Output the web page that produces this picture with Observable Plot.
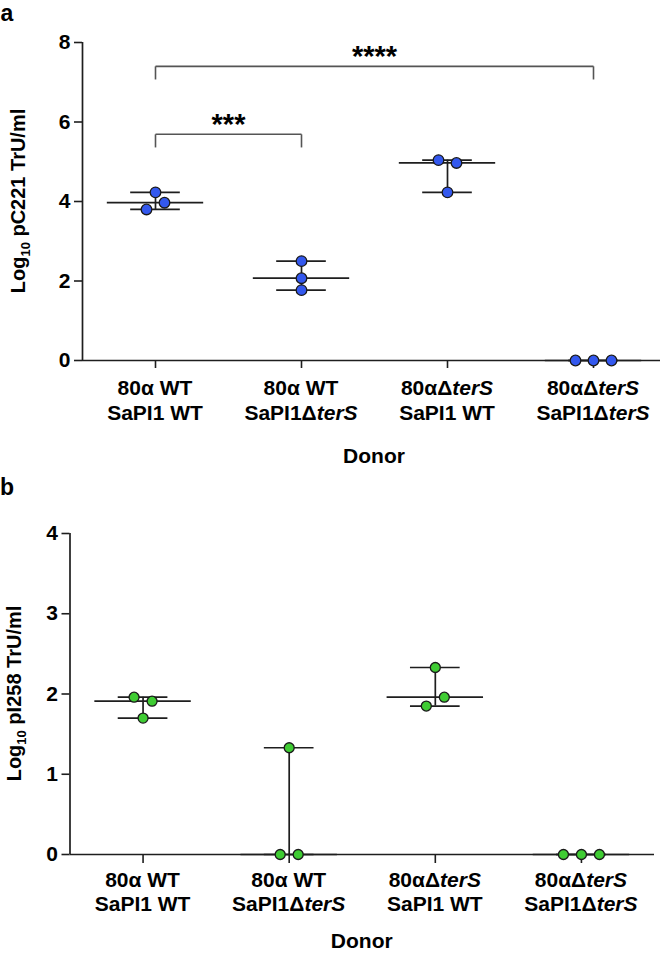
<!DOCTYPE html>
<html><head><meta charset="utf-8">
<script src="https://cdn.jsdelivr.net/npm/d3@7"></script>
<script src="https://cdn.jsdelivr.net/npm/@observablehq/plot@0.6"></script>
<style>
body{margin:0;background:#fff;}
#wrap{width:666px;}
#wrap svg{display:block;overflow:visible;}
</style></head>
<body><div id="wrap"></div>
<script>
// ---- data ----
const categories = [0, 1, 2, 3];
const tickLine1 = [[["80α WT", false]], [["80α WT", false]], [["80αΔ", false], ["terS", true]], [["80αΔ", false], ["terS", true]]];
const tickLine2 = [[["SaPI1 WT", false]], [["SaPI1Δ", false], ["terS", true]], [["SaPI1 WT", false]], [["SaPI1Δ", false], ["terS", true]]];
const groupIdx = [0,0,0, 1,1,1, 2,2,2, 3,3,3];
const valuesA = [4.23,3.97,3.80, 2.50,2.07,1.77, 5.04,4.97,4.23, 0,0,0];
const slotA   = [0,1,-1, 0,0,0, -1,1,0, -2,0,2];
const valuesB = [1.96,1.91,1.70, 1.33,0,0, 2.33,1.96,1.85, 0,0,0];
const slotB   = [-1,1,0, 0,-1,1, 0,1,-1, -2,0,2];
const bracketFrom = [0, 0];
const bracketTo = [1, 3];
const bracketY = [5.69, 7.40];
const bracketLabel = ["***", "****"];
const yTicksA = [0, 2, 4, 6, 8];
const yTicksB = [0, 1, 2, 3, 4];
const yLabelA = ["pC221 TrU/ml"];
const yLabelB = ["pI258 TrU/ml"];
const xTitle = "Donor";

const FONT = "'Liberation Sans', Arial, Helvetica, sans-serif";
const INK = "#1e1e1e";

function makePanel(cfg) {
  const pts = groupIdx.map((g, i) => ({g, v: cfg.values[i], slot: cfg.slots[i]}));
  const summary = d3.rollups(pts, v => ({
    med: d3.median(v, d => d.v), min: d3.min(v, d => d.v), max: d3.max(v, d => d.v)
  }), d => d.g).map(([g, s]) => ({g, ...s}));
  const brackets = (cfg.brackets || []);
  const marks = [
    Plot.ruleX([-0.5], {stroke: INK, strokeWidth: 1.7}),
    Plot.axisY({ticks: cfg.yTicks, tickFormat: d3.format("d"), tickSize: 8, tickPadding: 4, label: null, fontSize: cfg.tickFont, fontWeight: "bold", stroke: INK, strokeWidth: 1.6, fill: "#000"}),
    Plot.axisX({ticks: categories, tickSize: cfg.xTickSize, tickFormat: () => "", label: null, stroke: INK, strokeWidth: 1.6}),
    // range (min-max) vertical line
    Plot.ruleX(summary, {x: "g", y1: "min", y2: "max", stroke: INK, strokeWidth: 1.7}),
    // median line
    Plot.ruleY(summary, {y: "med", x1: d => d.g - 0.33, x2: d => d.g + 0.33, stroke: INK, strokeWidth: 1.7}),
    // range caps
    Plot.ruleY(summary, {y: "min", x1: d => d.g - 0.17, x2: d => d.g + 0.17, stroke: INK, strokeWidth: 1.7}),
    Plot.ruleY(summary, {y: "max", x1: d => d.g - 0.17, x2: d => d.g + 0.17, stroke: INK, strokeWidth: 1.7}),
    Plot.ruleY([0], {stroke: INK, strokeWidth: 1.7, insetRight: cfg.axisInsetRight}),
    // significance brackets
    Plot.link(brackets, {x1: "from", x2: "to", y1: "y", y2: "y", stroke: "#555", strokeWidth: 1.6}),
    Plot.link(brackets, {x1: "from", x2: "from", y1: "y", y2: d => d.y - 0.33, stroke: "#555", strokeWidth: 1.6}),
    Plot.link(brackets, {x1: "to", x2: "to", y1: "y", y2: d => d.y - 0.33, stroke: "#555", strokeWidth: 1.6}),
    Plot.text(brackets, {x: d => (d.from + d.to) / 2, y: "y", text: "label", dy: -10, fontSize: 29, fontWeight: "bold", fill: "#000"})
  ];
  for (const s of [-2, -1, 0, 1, 2]) {
    marks.push(Plot.dot(pts.filter(d => d.slot === s), {x: "g", y: "v", dx: s * 9, r: cfg.r, fill: cfg.color, stroke: "#1a1a1a", strokeWidth: 1.3}));
  }
  const plot = Plot.plot({
    width: 666, height: cfg.height,
    marginLeft: cfg.ml, marginRight: cfg.mr, marginTop: cfg.mt, marginBottom: cfg.mb,
    style: {fontFamily: FONT, background: "#fff", overflow: "visible"},
    x: {type: "linear", domain: [-0.5, 3.5], axis: null},
    y: {domain: cfg.yDomain, axis: null},
    marks
  });
  const svg = d3.select(plot);
  const sx = plot.scale("x"), sy = plot.scale("y");
  const y0 = sy.apply(0);
  // x tick labels (two lines, with italics)
  categories.forEach((c, i) => {
    const xc = sx.apply(c);
    [[tickLine1[i], cfg.l1], [tickLine2[i], cfg.l2]].forEach(([parts, off]) => {
      const t = svg.append("text").attr("x", xc).attr("y", y0 + off)
        .attr("text-anchor", "middle").attr("font-family", FONT).attr("font-size", cfg.xFont)
        .attr("font-weight", "bold").attr("fill", "#000");
      parts.forEach(([s, it]) => t.append("tspan").text(s).attr("font-style", it ? "italic" : "normal"));
    });
  });
  // x title
  svg.append("text").attr("x", (sx.apply(-0.5) + sx.apply(3.5)) / 2).attr("y", y0 + cfg.titleOff)
    .attr("text-anchor", "middle").attr("font-family", FONT).attr("font-size", 21)
    .attr("font-weight", "bold").attr("fill", "#000").text(xTitle);
  // y label with subscript
  const yc = (sy.apply(cfg.yDomain[0]) + sy.apply(cfg.yDomain[1])) / 2;
  const yl = svg.append("text").attr("transform", `translate(${cfg.ylx},${yc}) rotate(-90)`)
    .attr("text-anchor", "middle").attr("font-family", FONT).attr("font-size", 20)
    .attr("font-weight", "bold").attr("fill", "#000");
  yl.append("tspan").text("Log");
  yl.append("tspan").text("10").attr("font-size", 13).attr("dy", 5);
  yl.append("tspan").text(" " + cfg.yLabel[0]).attr("dy", -5);
  // panel letter
  svg.append("text").attr("x", 7).attr("y", cfg.letterY).attr("font-family", FONT).attr("font-size", 23)
    .attr("font-weight", "bold").attr("fill", "#000").text(cfg.letter);
  return plot;
}

const bracketsA = bracketFrom.map((f, i) => ({from: f, to: bracketTo[i], y: bracketY[i], label: bracketLabel[i]}));

const wrap = document.getElementById("wrap");
wrap.append(makePanel({
  values: valuesA, slots: slotA, color: "#3358ee", r: 5.3, height: 480,
  ml: 82, mr: 0, mt: 42, mb: 120, yDomain: [0, 8], yTicks: yTicksA, tickFont: 21,
  xTickSize: 8, axisInsetRight: 6, brackets: bracketsA, l1: 35, l2: 60, titleOff: 103, xFont: 21,
  ylx: 25, yLabel: yLabelA, letter: "a", letterY: 21
}));
wrap.append(makePanel({
  values: valuesB, slots: slotB, color: "#3fcc33", r: 5, height: 478,
  ml: 69.5, mr: 12, mt: 53, mb: 104, yDomain: [0, 4], yTicks: yTicksB, tickFont: 21,
  xTickSize: 9, axisInsetRight: 0, brackets: [], l1: 33, l2: 57, titleOff: 94, xFont: 21,
  ylx: 20.5, yLabel: yLabelB, letter: "b", letterY: 15
}));
</script>
</body></html>
